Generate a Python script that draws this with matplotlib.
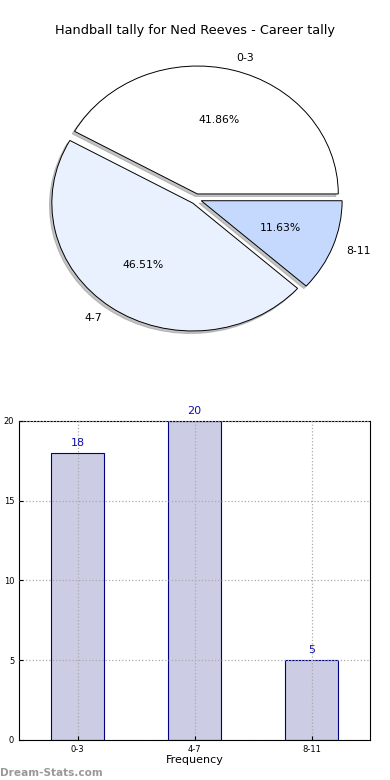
import matplotlib
matplotlib.use('Agg')
import matplotlib.pyplot as plt

categories = ['0-3', '4-7', '8-11']
tally = [18, 20, 5]
pie_colors = ['#ffffff', '#eaf1fe', '#c5d9fe']

fig = plt.figure(figsize=(3.9, 7.8), dpi=100)

# pie
ax1 = fig.add_axes([0.051, 0.540, 0.903, 0.41])
ax1.pie(tally, labels=categories, colors=pie_colors, explode=[0.04, 0.04, 0.04],
        autopct='%1.2f%%', shadow={'ox': -0.012, 'oy': -0.014, 'color': '#888888'},
        startangle=0, counterclock=True,
        wedgeprops={'edgecolor': 'black', 'linewidth': 0.7},
        textprops={'fontsize': 7.8})
ax1.set_aspect('auto')
ax1.set_xlim(-1.25, 1.25)
ax1.set_ylim(-1.25, 1.25)
fig.text(0.5, 0.961, 'Handball tally for Ned Reeves - Career tally',
         ha='center', va='center', fontsize=9.3)

# bars
ax2 = fig.add_axes([0.049, 0.0513, 0.9, 0.409])
x = range(len(categories))
ax2.bar(x, tally, width=0.45, color='#ccccе4'.replace('е', 'e'),
        edgecolor='navy', linewidth=0.8)
for xi, v in zip(x, tally):
    ax2.text(xi, v + 0.3, str(v), ha='center', va='bottom',
             fontsize=8, color='#1010a0')
ax2.set_xlim(-0.5, 2.5)
ax2.set_ylim(0, 20)
ax2.set_yticks([0, 5, 10, 15, 20])
ax2.set_xticks(list(x))
ax2.set_xticklabels(categories)
ax2.tick_params(labelsize=6, direction='in', length=3)
ax2.grid(True, linestyle=':', color='#aaaaaa', linewidth=0.9)
ax2.set_axisbelow(False)
ax2.set_xlabel('Frequency', fontsize=8, labelpad=1)
ax2.set_ylabel('Handball Tally', fontsize=8, labelpad=1)
ax2.yaxis.set_label_coords(-0.072, 0.5)

fig.text(0.0, 0.002, 'Dream-Stats.com', fontsize=7.6, color='#999999',
         fontweight='bold', ha='left', va='bottom')

fig.savefig('out.png', dpi=100)
